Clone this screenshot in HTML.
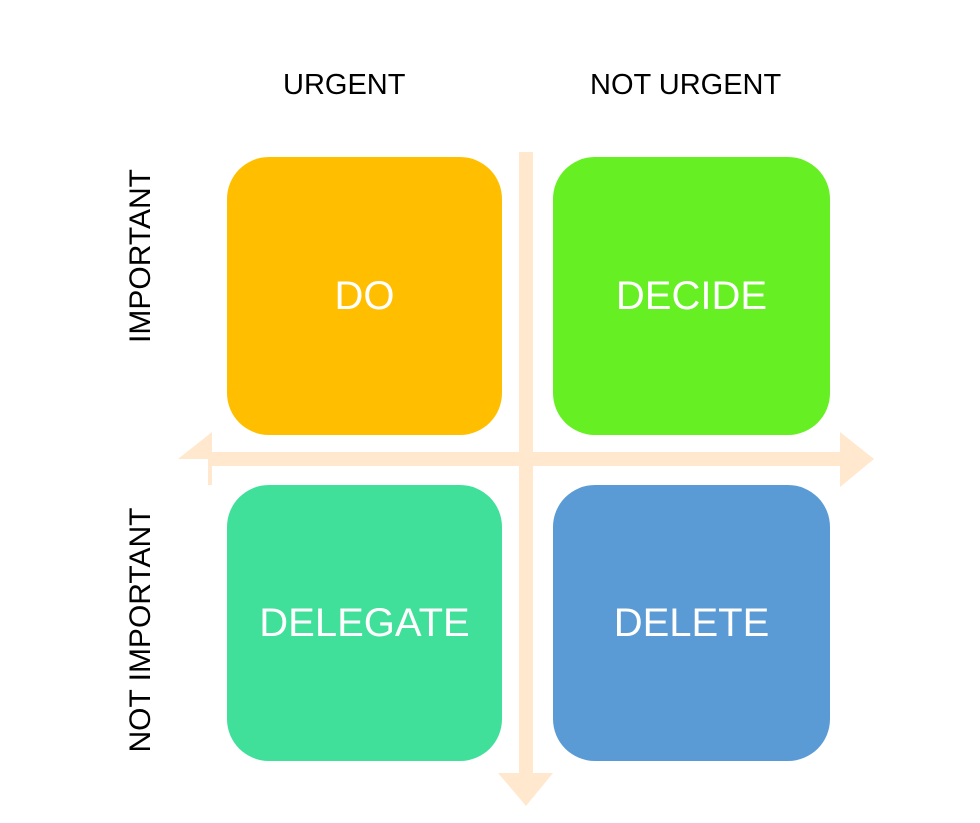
<!DOCTYPE html>
<html><head><style>
body{margin:0;width:980px;height:823px;background:#fff;font-family:"Liberation Sans",sans-serif;position:relative;overflow:hidden}
.b{position:absolute;border-radius:42px;color:#fff;font-size:40px;display:flex;align-items:center;justify-content:center}
.l{position:absolute;font-size:29px;color:#000;white-space:nowrap}
</style></head><body>
<svg width="980" height="823" style="position:absolute;left:0;top:0">
<g fill="#ffe8ce">
<rect x="519" y="152" width="14" height="625"/>
<polygon points="498,773 553,773 526,806"/>
<rect x="208" y="452" width="636" height="14"/>
<polygon points="840,432 840,487 874,459"/>
<polygon points="212,432 212,459 178,459"/>
<rect x="208" y="459" width="4" height="26"/>
</g>
</svg>
<div class="b" style="left:227px;top:157px;width:275px;height:278px;background:#ffbf00">DO</div>
<div class="b" style="left:553px;top:157px;width:277px;height:278px;background:#66ef22">DECIDE</div>
<div class="b" style="left:227px;top:485px;width:275px;height:276px;background:#40e09a">DELEGATE</div>
<div class="b" style="left:553px;top:485px;width:277px;height:276px;background:#5b9bd5">DELETE</div>
<div class="l" style="left:283px;top:69px">URGENT</div>
<div class="l" style="left:590px;top:69px">NOT URGENT</div>
<div class="l" style="left:141px;top:256px;font-size:30px;transform:translate(-50%,-50%) rotate(-90deg)">IMPORTANT</div>
<div class="l" style="left:141px;top:630px;font-size:30px;transform:translate(-50%,-50%) rotate(-90deg)">NOT IMPORTANT</div>
</body></html>
